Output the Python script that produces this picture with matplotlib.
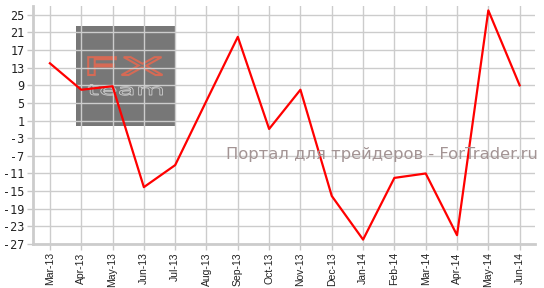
import matplotlib
matplotlib.use('Agg')
import matplotlib.pyplot as plt
from matplotlib.patches import Rectangle, PathPatch
from matplotlib.textpath import TextPath
from matplotlib.font_manager import FontProperties
from matplotlib.transforms import Affine2D

months = ['Mar-13', 'Apr-13', 'May-13', 'Jun-13', 'Jul-13', 'Aug-13', 'Sep-13',
          'Oct-13', 'Nov-13', 'Dec-13', 'Jan-14', 'Feb-14', 'Mar-14', 'Apr-14',
          'May-14', 'Jun-14']
values = [14, 8, 8.8, -14.1, -9.1, 5.5, 20, -0.9, 8, -16.1, -26, -12, -11, -25, 26, 9]
yticks = list(range(-27, 26, 4))

fig = plt.figure(figsize=(5.44, 2.88), dpi=100)
ax = fig.add_axes([33 / 544, 1 - 244 / 288, 502 / 544, 238 / 288])

x = list(range(len(months)))
ax.plot(x, values, color='#ff0000', lw=1.6, zorder=3)

ax.set_xlim(-0.54, len(months) - 1 + 0.49)
ax.set_ylim(-27, 27)
ax.set_xticks(x)
ax.set_xticklabels(months, rotation=90, fontsize=7.5, family='Liberation Sans', color='#222222')
ax.set_yticks(yticks)
ax.set_yticklabels([str(v) for v in yticks], fontsize=8.5, family='DejaVu Sans Mono', color='#222222')
ax.tick_params(length=4, width=1, color='#c8c8c8', pad=2)
ax.grid(True, color='#cccccc', lw=1, zorder=1)
ax.set_axisbelow(True)
for s in ['top', 'right']:
    ax.spines[s].set_visible(False)
for s in ['left', 'bottom']:
    ax.spines[s].set_color('#cccccc')
    ax.spines[s].set_linewidth(2)

# logo watermark
ax.add_patch(Rectangle((0.0857, 0.497), 0.197, 0.419, transform=ax.transAxes,
                       facecolor='#777777', edgecolor='none', zorder=0.05))


def put_path(txt, box, **kw):
    tp = TextPath((0, 0), txt, size=10, prop=FontProperties(family='DejaVu Sans'))
    ext = tp.get_extents()
    x0, y0, x1, y1 = box
    tr = (Affine2D().translate(-ext.x0, -ext.y0)
          .scale((x1 - x0) / ext.width, (y1 - y0) / ext.height)
          .translate(x0, y0))
    ax.add_patch(PathPatch(tr.transform_path(tp), transform=ax.transAxes, zorder=0.1, **kw))


put_path('FX', (0.11, 0.71, 0.258, 0.785), facecolor='none', edgecolor='#d66a55', lw=1.5)
put_path('team', (0.11, 0.625, 0.258, 0.67), facecolor='none', edgecolor='#d0d0d0', lw=0.6)

fig.text(538 / 544, 1 - 154 / 288, 'Портал для трейдеров - ForTrader.ru',
         ha='right', va='center', fontsize=11.8, color='#a39494')

fig.savefig('out.png', dpi=100)
